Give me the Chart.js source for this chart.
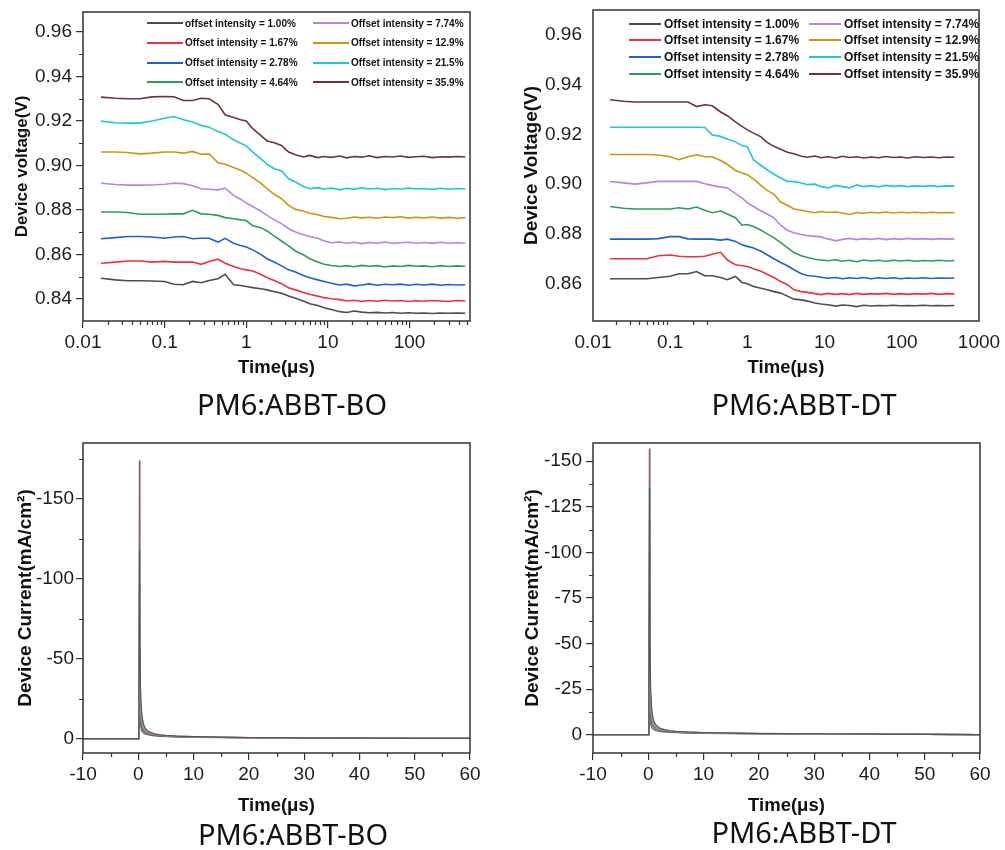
<!DOCTYPE html>
<html>
<head>
<meta charset="utf-8">
<script src="https://cdn.jsdelivr.net/npm/chart.js@4.4.1/dist/chart.umd.min.js"></script>
<style>
  body { margin: 0; background: #fff; width: 1005px; height: 850px; position: relative; overflow: hidden; font-family: "Liberation Sans", Arial, sans-serif; }
  canvas { position: absolute; }
  .cap { position: absolute; width: 300px; height: 40px; line-height: 40px; text-align: center; font-family: "Noto Sans", sans-serif; font-size: 29px; color: #111; }
  .lg { position: absolute; display: flex; align-items: center; height: 14px; font-weight: bold; white-space: nowrap; color: #111; }
  .lg i { display: inline-block; height: 2px; }
</style>
</head>
<body>
<canvas id="c1" width="490" height="390" style="left:0;top:0"></canvas>
<canvas id="c2" width="505" height="390" style="left:500px;top:0"></canvas>
<canvas id="c3" width="490" height="400" style="left:0;top:420px"></canvas>
<canvas id="c4" width="505" height="400" style="left:500px;top:420px"></canvas>
<div class="cap" style="left:142px;top:384px">PM6:ABBT-BO</div>
<div class="cap" style="left:654px;top:384px">PM6:ABBT-DT</div>
<div class="cap" style="left:143px;top:814px">PM6:ABBT-BO</div>
<div class="cap" style="left:654px;top:812px">PM6:ABBT-DT</div>
<script>
// 瞬态光电压 (上) / 瞬态光电流 (下)

const timeTop = [0.0166, 0.025, 0.035, 0.05, 0.07, 0.1, 0.13, 0.17, 0.22, 0.28, 0.35, 0.45, 0.55, 0.7, 0.85,
  1.0, 1.2, 1.5, 1.8, 2.2, 2.7, 3.3, 4, 5, 6, 7.5, 9, 11, 14, 17, 21, 26, 32, 40, 50, 62, 78, 97, 120, 150,
  190, 240, 300, 380, 480];

// PM6:ABBT-BO voltage (V)
const voltBO_100 = [0.8492, 0.8485, 0.8481, 0.8481, 0.8480, 0.8478, 0.8465, 0.8463, 0.8478, 0.8472, 0.8482, 0.8490, 0.8510, 0.8463, 0.8460,
  0.8455, 0.8450, 0.8445, 0.8440, 0.8432, 0.8425, 0.8412, 0.8402, 0.8390, 0.8378, 0.8370, 0.8360, 0.8352, 0.8342, 0.8338,
  0.8345, 0.8340, 0.8337, 0.8339, 0.8336, 0.8338, 0.8335, 0.8337, 0.8335, 0.8336, 0.8334, 0.8336, 0.8335, 0.8336, 0.8335];
const voltBO_167 = [0.8560, 0.8565, 0.8570, 0.8570, 0.8565, 0.8568, 0.8565, 0.8565, 0.8565, 0.8555, 0.8568, 0.8578, 0.8560, 0.8545, 0.8535,
  0.8530, 0.8525, 0.8510, 0.8495, 0.8482, 0.8468, 0.8450, 0.8440, 0.8428, 0.8420, 0.8412, 0.8405, 0.8400, 0.8396, 0.8390,
  0.8393, 0.8388, 0.8392, 0.8389, 0.8393, 0.8390, 0.8392, 0.8388, 0.8391, 0.8389, 0.8392, 0.8390, 0.8388, 0.8392, 0.8390];
const voltBO_278 = [0.8670, 0.8675, 0.8680, 0.8680, 0.8678, 0.8672, 0.8678, 0.8680, 0.8670, 0.8672, 0.8672, 0.8655, 0.8672, 0.8650, 0.8640,
  0.8633, 0.8620, 0.8600, 0.8580, 0.8565, 0.8548, 0.8530, 0.8520, 0.8505, 0.8495, 0.8485, 0.8478, 0.8470, 0.8462, 0.8466,
  0.8458, 0.8462, 0.8467, 0.8461, 0.8465, 0.8463, 0.8466, 0.8461, 0.8465, 0.8462, 0.8466, 0.8461, 0.8464, 0.8462, 0.8463];
const voltBO_464 = [0.8790, 0.8790, 0.8788, 0.8780, 0.8780, 0.8780, 0.8782, 0.8782, 0.8798, 0.8782, 0.8780, 0.8775, 0.8765, 0.8760, 0.8755,
  0.8752, 0.8728, 0.8720, 0.8705, 0.8682, 0.8660, 0.8638, 0.8615, 0.8598, 0.8580, 0.8565, 0.8555, 0.8550, 0.8545, 0.8549,
  0.8544, 0.8550, 0.8546, 0.8549, 0.8543, 0.8548, 0.8545, 0.8550, 0.8546, 0.8548, 0.8544, 0.8549, 0.8545, 0.8548, 0.8546];
const voltBO_774 = [0.8920, 0.8914, 0.8911, 0.8911, 0.8912, 0.8915, 0.8920, 0.8918, 0.8908, 0.8895, 0.8893, 0.8890, 0.8898, 0.8865, 0.8848,
  0.8830, 0.8815, 0.8795, 0.8775, 0.8755, 0.8738, 0.8715, 0.8700, 0.8688, 0.8680, 0.8672, 0.8660, 0.8652, 0.8655, 0.8650,
  0.8654, 0.8648, 0.8653, 0.8650, 0.8655, 0.8649, 0.8652, 0.8654, 0.8650, 0.8653, 0.8649, 0.8654, 0.8650, 0.8652, 0.8650];
const voltBO_129 = [0.9060, 0.9060, 0.9058, 0.9052, 0.9055, 0.9060, 0.9060, 0.9055, 0.9063, 0.9050, 0.9052, 0.9012, 0.9005, 0.8990, 0.8978,
  0.8965, 0.8945, 0.8920, 0.8895, 0.8870, 0.8850, 0.8820, 0.8802, 0.8795, 0.8785, 0.8778, 0.8770, 0.8766, 0.8760, 0.8762,
  0.8768, 0.8764, 0.8767, 0.8762, 0.8768, 0.8765, 0.8769, 0.8763, 0.8767, 0.8764, 0.8768, 0.8763, 0.8766, 0.8762, 0.8765];
const voltBO_215 = [0.9199, 0.9192, 0.9190, 0.9190, 0.9200, 0.9212, 0.9220, 0.9205, 0.9195, 0.9180, 0.9172, 0.9152, 0.9140, 0.9115, 0.9100,
  0.9088, 0.9060, 0.9030, 0.9005, 0.8985, 0.8975, 0.8940, 0.8925, 0.8905, 0.8895, 0.8900, 0.8893, 0.8898, 0.8890, 0.8897,
  0.8892, 0.8899, 0.8894, 0.8897, 0.8891, 0.8896, 0.8893, 0.8898, 0.8894, 0.8896, 0.8892, 0.8897, 0.8893, 0.8896, 0.8894];
const voltBO_359 = [0.9307, 0.9302, 0.9300, 0.9300, 0.9308, 0.9310, 0.9309, 0.9292, 0.9292, 0.9302, 0.9300, 0.9275, 0.9228, 0.9215, 0.9205,
  0.9200, 0.9165, 0.9135, 0.9110, 0.9102, 0.9090, 0.9060, 0.9048, 0.9038, 0.9045, 0.9035, 0.9040, 0.9036, 0.9042, 0.9034,
  0.9040, 0.9037, 0.9043, 0.9035, 0.9040, 0.9038, 0.9042, 0.9036, 0.9039, 0.9041, 0.9035, 0.9039, 0.9037, 0.9040, 0.9038];

// PM6:ABBT-DT voltage (V)
const voltDT_100 = [0.8620, 0.8620, 0.8620, 0.8620, 0.8625, 0.8630, 0.8640, 0.8640, 0.8649, 0.8632, 0.8632, 0.8625, 0.8616, 0.8629, 0.8605,
  0.8600, 0.8589, 0.8582, 0.8576, 0.8568, 0.8562, 0.8550, 0.8538, 0.8535, 0.8530, 0.8522, 0.8518, 0.8515, 0.8510, 0.8514,
  0.8512, 0.8508, 0.8513, 0.8510, 0.8512, 0.8511, 0.8513, 0.8511, 0.8512, 0.8511, 0.8513, 0.8511, 0.8512, 0.8511, 0.8512];
const voltDT_167 = [0.8700, 0.8700, 0.8700, 0.8700, 0.8712, 0.8715, 0.8710, 0.8708, 0.8708, 0.8710, 0.8718, 0.8726, 0.8695, 0.8676, 0.8672,
  0.8669, 0.8660, 0.8650, 0.8638, 0.8625, 0.8609, 0.8596, 0.8576, 0.8568, 0.8565, 0.8560, 0.8556, 0.8561, 0.8557, 0.8560,
  0.8556, 0.8561, 0.8557, 0.8560, 0.8558, 0.8561, 0.8557, 0.8560, 0.8557, 0.8560, 0.8558, 0.8561, 0.8557, 0.8560, 0.8559];
const voltDT_278 = [0.8779, 0.8779, 0.8779, 0.8779, 0.8781, 0.8789, 0.8789, 0.8780, 0.8779, 0.8779, 0.8779, 0.8775, 0.8779, 0.8770, 0.8756,
  0.8750, 0.8743, 0.8730, 0.8716, 0.8700, 0.8685, 0.8672, 0.8656, 0.8640, 0.8633, 0.8630, 0.8626, 0.8622, 0.8625, 0.8620,
  0.8624, 0.8621, 0.8625, 0.8620, 0.8624, 0.8621, 0.8624, 0.8620, 0.8623, 0.8621, 0.8624, 0.8621, 0.8623, 0.8622, 0.8623];
const voltDT_464 = [0.8910, 0.8903, 0.8900, 0.8900, 0.8900, 0.8900, 0.8905, 0.8900, 0.8908, 0.8895, 0.8885, 0.8892, 0.8880, 0.8865, 0.8835,
  0.8838, 0.8830, 0.8815, 0.8800, 0.8785, 0.8765, 0.8745, 0.8725, 0.8712, 0.8705, 0.8698, 0.8695, 0.8692, 0.8696, 0.8690,
  0.8694, 0.8688, 0.8695, 0.8691, 0.8694, 0.8690, 0.8694, 0.8691, 0.8694, 0.8690, 0.8693, 0.8691, 0.8694, 0.8691, 0.8693];
const voltDT_774 = [0.9011, 0.9005, 0.9000, 0.9005, 0.9011, 0.9011, 0.9011, 0.9011, 0.9011, 0.9002, 0.8995, 0.8988, 0.8985, 0.8962, 0.8945,
  0.8925, 0.8910, 0.8892, 0.8880, 0.8865, 0.8835, 0.8815, 0.8805, 0.8798, 0.8793, 0.8790, 0.8788, 0.8780, 0.8772, 0.8778,
  0.8782, 0.8777, 0.8781, 0.8778, 0.8782, 0.8777, 0.8781, 0.8778, 0.8782, 0.8779, 0.8781, 0.8778, 0.8781, 0.8779, 0.8780];
const voltDT_129 = [0.9119, 0.9119, 0.9119, 0.9119, 0.9117, 0.9110, 0.9098, 0.9110, 0.9118, 0.9110, 0.9110, 0.9095, 0.9080, 0.9055, 0.9045,
  0.9038, 0.9020, 0.8995, 0.8975, 0.8960, 0.8928, 0.8915, 0.8900, 0.8895, 0.8890, 0.8885, 0.8890, 0.8886, 0.8888, 0.8884,
  0.8878, 0.8886, 0.8883, 0.8887, 0.8884, 0.8888, 0.8884, 0.8887, 0.8885, 0.8887, 0.8884, 0.8887, 0.8885, 0.8886, 0.8885];
const voltDT_215 = [0.9229, 0.9229, 0.9229, 0.9229, 0.9229, 0.9229, 0.9229, 0.9229, 0.9229, 0.9228, 0.9198, 0.9192, 0.9182, 0.9170, 0.9155,
  0.9150, 0.9098, 0.9075, 0.9058, 0.9040, 0.9025, 0.9011, 0.9010, 0.9005, 0.8998, 0.9000, 0.8990, 0.8985, 0.8995, 0.8990,
  0.8985, 0.8997, 0.8990, 0.8994, 0.8989, 0.8995, 0.8991, 0.8994, 0.8990, 0.8993, 0.8991, 0.8994, 0.8990, 0.8993, 0.8992];
const voltDT_359 = [0.9339, 0.9333, 0.9330, 0.9330, 0.9330, 0.9330, 0.9330, 0.9330, 0.9312, 0.9319, 0.9315, 0.9290, 0.9275, 0.9250, 0.9232,
  0.9218, 0.9205, 0.9190, 0.9168, 0.9152, 0.9140, 0.9128, 0.9122, 0.9112, 0.9108, 0.9113, 0.9106, 0.9110, 0.9105, 0.9112,
  0.9107, 0.9110, 0.9105, 0.9109, 0.9106, 0.9111, 0.9107, 0.9109, 0.9105, 0.9110, 0.9107, 0.9109, 0.9106, 0.9109, 0.9108];

// transient photocurrent (mA/cm2)
const timeCur = [-10, -5, 0, 0.1, 0.2, 0.3, 0.4, 0.6, 0.8, 1, 1.3, 1.7, 2.2, 3, 4, 5, 7, 10, 15, 20, 30, 40, 50, 60];

const curBO_100 = [0, 0, 0, -0.2, -22, -12, -8, -5, -4, -3.3, -2.8, -2.4, -2.0, -1.7, -1.4, -1.2, -1.0, -0.8, -0.6, -0.5, -0.35, -0.25, -0.15, -0.1];
const curBO_167 = [0, 0, 0, -0.2, -34, -16, -10, -6.5, -5, -4, -3.3, -2.8, -2.3, -1.9, -1.6, -1.4, -1.1, -0.9, -0.7, -0.5, -0.35, -0.25, -0.15, -0.1];
const curBO_278 = [0, 0, 0, -0.3, -45, -20, -13, -8, -6, -4.8, -3.8, -3.1, -2.6, -2.1, -1.7, -1.5, -1.2, -1.0, -0.7, -0.55, -0.4, -0.3, -0.2, -0.1];
const curBO_464 = [0, 0, 0, -0.3, -57, -26, -16, -10, -7.2, -5.6, -4.4, -3.5, -2.9, -2.3, -1.9, -1.6, -1.3, -1.0, -0.8, -0.6, -0.4, -0.3, -0.2, -0.1];
const curBO_774 = [0, 0, 0, -0.4, -76, -32, -19, -11.5, -8.2, -6.3, -4.9, -3.9, -3.1, -2.5, -2.0, -1.7, -1.4, -1.1, -0.8, -0.6, -0.45, -0.3, -0.2, -0.1];
const curBO_129 = [0, 0, 0, -0.4, -96, -38, -22, -13, -9.2, -7, -5.4, -4.2, -3.4, -2.7, -2.2, -1.8, -1.5, -1.2, -0.9, -0.7, -0.45, -0.3, -0.2, -0.1];
const curBO_215 = [0, 0, 0, -0.5, -118, -46, -26, -15, -10.5, -7.8, -6, -4.6, -3.7, -2.9, -2.3, -1.9, -1.5, -1.2, -0.9, -0.7, -0.5, -0.35, -0.2, -0.1];
const curBO_359 = [0, 0, 0, -0.5, -174, -60, -32, -17, -11.5, -8.5, -6.4, -4.9, -3.9, -3.0, -2.4, -2.0, -1.6, -1.3, -0.9, -0.7, -0.5, -0.35, -0.2, -0.1];

const curDT_100 = [0, 0, 0, -0.2, -18, -9, -6, -4, -3.2, -2.7, -2.3, -2, -1.7, -1.5, -1.3, -1.1, -0.9, -0.8, -0.6, -0.5, -0.4, -0.3, -0.2, -0.1];
const curDT_167 = [0, 0, 0, -0.2, -33, -14, -9, -5.8, -4.5, -3.6, -3, -2.5, -2.1, -1.8, -1.5, -1.3, -1.1, -0.9, -0.7, -0.55, -0.4, -0.3, -0.2, -0.1];
const curDT_278 = [0, 0, 0, -0.3, -50, -19, -12, -7.5, -5.6, -4.4, -3.6, -2.9, -2.4, -2, -1.7, -1.5, -1.2, -1, -0.75, -0.6, -0.45, -0.3, -0.2, -0.1];
const curDT_464 = [0, 0, 0, -0.3, -75, -26, -15, -9, -6.6, -5.1, -4.1, -3.3, -2.7, -2.2, -1.8, -1.6, -1.3, -1.05, -0.8, -0.6, -0.45, -0.3, -0.2, -0.1];
const curDT_774 = [0, 0, 0, -0.4, -100, -32, -18, -10.5, -7.5, -5.8, -4.5, -3.6, -2.9, -2.4, -1.9, -1.7, -1.4, -1.1, -0.85, -0.65, -0.5, -0.35, -0.2, -0.1];
const curDT_129 = [0, 0, 0, -0.4, -118, -38, -21, -12, -8.4, -6.4, -5, -3.9, -3.1, -2.5, -2, -1.8, -1.45, -1.15, -0.9, -0.7, -0.5, -0.35, -0.2, -0.1];
const curDT_215 = [0, 0, 0, -0.5, -135, -44, -24, -13.5, -9.3, -7, -5.4, -4.2, -3.3, -2.6, -2.1, -1.85, -1.5, -1.2, -0.9, -0.7, -0.5, -0.35, -0.2, -0.1];
const curDT_359 = [0, 0, 0, -0.5, -157, -52, -28, -15, -10.2, -7.6, -5.8, -4.5, -3.5, -2.8, -2.2, -1.9, -1.55, -1.25, -0.95, -0.75, -0.55, -0.35, -0.2, -0.1];

const legendBO = ["offset intensity = 1.00%", "Offset intensity = 1.67%", "Offset intensity = 2.78%", "Offset intensity = 4.64%",
  "Offset intensity = 7.74%", "Offset intensity = 12.9%", "Offset intensity = 21.5%", "Offset intensity = 35.9%"];
const legendDT = ["Offset intensity = 1.00%", "Offset intensity = 1.67%", "Offset intensity = 2.78%", "Offset intensity = 4.64%",
  "Offset intensity = 7.74%", "Offset intensity = 12.9%", "Offset intensity = 21.5%", "Offset intensity = 35.9%"];
const seriesColors = ["#4d4d4d", "#e8343c", "#1f5fcf", "#2a9d5c", "#b584e0", "#c99513", "#22c7cb", "#6e3434"];

const xTicksBO = [0.01, 0.1, 1, 10, 100];
const xTicksDT = [0.01, 0.1, 1, 10, 100, 1000];
const minorXBO = [0.02, 0.03, 0.04, 0.05, 0.06, 0.07, 0.08, 0.09, 0.2, 0.3, 0.4, 0.5, 0.6, 0.7, 0.8, 0.9,
  2, 3, 4, 5, 6, 7, 8, 9, 20, 30, 40, 50, 60, 70, 80, 90, 200, 300, 400, 500];
const minorXDT = [0.02, 0.03, 0.04, 0.05, 0.06, 0.07, 0.08, 0.09, 0.2, 0.3];
const yTicksBO = [0.84, 0.86, 0.88, 0.90, 0.92, 0.94, 0.96];
const minorYBO = [0.85, 0.87, 0.89, 0.91, 0.93, 0.95];
const yTicksDT = [0.86, 0.88, 0.90, 0.92, 0.94, 0.96];
const xTicksCur = [-10, 0, 10, 20, 30, 40, 50, 60];
const minorXCur = [-5, 5, 15, 25, 35, 45, 55];
const yTicksCurBO = [-150, -100, -50, 0];
const minorYCurBO = [-175, -125, -75, -25];
const yTicksCurDT = [-150, -125, -100, -75, -50, -25, 0];
const minorYCurDT = [-137.5, -112.5, -87.5, -62.5, -37.5, -12.5];

Chart.defaults.font.family = '"Liberation Sans", Arial, sans-serif';
Chart.defaults.color = "#1c1c1c";

// 边框 + 次刻度
const axisDeco = {
  id: "axisDeco",
  afterDraw(chart, args, opts) {
    const { ctx, chartArea: a, scales } = chart;
    ctx.save();
    ctx.strokeStyle = "#333";
    ctx.lineWidth = 1.5;
    ctx.strokeRect(a.left, a.top, a.right - a.left, a.bottom - a.top);
    ctx.lineWidth = 1.2;
    ctx.beginPath();
    (opts.minorX || []).forEach((v) => {
      const px = Math.round(scales.x.getPixelForValue(v)) + 0.5;
      ctx.moveTo(px, a.bottom);
      ctx.lineTo(px, a.bottom + 4);
    });
    (opts.minorY || []).forEach((v) => {
      const py = Math.round(scales.y.getPixelForValue(v)) + 0.5;
      ctx.moveTo(a.left - 4, py);
      ctx.lineTo(a.left, py);
    });
    ctx.stroke();
    ctx.restore();
  },
};

// 固定坐标轴尺寸，不让标签溢出去挤压绘图区
function fixX(h) {
  return (s) => { s.height = h; s.paddingLeft = 0; s.paddingRight = 0; };
}
function fixY(w) {
  return (s) => { s.width = w; s.paddingTop = 0; s.paddingBottom = 0; };
}

function makeChart(id, o) {
  return new Chart(document.getElementById(id), {
    type: "line",
    data: {
      datasets: o.series.map((ys, i) => ({
        label: o.labels[i],
        data: o.xs.map((x, k) => ({ x, y: ys[k] })),
        borderColor: seriesColors[i] + o.alpha,
        backgroundColor: seriesColors[i],
        borderWidth: o.lineWidth,
        pointRadius: 0,
        tension: 0,
        order: 7 - i,
      })),
    },
    options: {
      responsive: false,
      animation: false,
      devicePixelRatio: 1,
      layout: { padding: o.pad },
      plugins: {
        legend: { display: false },
        tooltip: { enabled: false },
        axisDeco: { minorX: o.minorX, minorY: o.minorY },
      },
      scales: {
        x: {
          type: o.xType,
          min: o.xMin,
          max: o.xMax,
          afterBuildTicks: (s) => { s.ticks = o.xTicks.map((v) => ({ value: v })); },
          afterFit: fixX(o.xHeight),
          border: { display: false },
          grid: { drawOnChartArea: false, drawTicks: o.majorTicks, tickLength: 7, color: "#333", lineWidth: 1.2 },
          ticks: { autoSkip: false, maxRotation: 0, padding: o.xLabelPad, font: { size: 19 }, callback: (v) => String(v) },
          title: { display: true, text: "Time(μs)", color: "#111", font: { size: 18.5, weight: "bold" }, padding: { top: 0, bottom: o.xTitlePad } },
        },
        y: {
          min: o.yMin,
          max: o.yMax,
          reverse: o.reverse,
          afterBuildTicks: (s) => { s.ticks = o.yTicks.map((v) => ({ value: v })); },
          afterFit: fixY(o.yWidth),
          border: { display: false },
          grid: { drawOnChartArea: false, drawTicks: o.majorTicks, tickLength: 7, color: "#333", lineWidth: 1.2 },
          ticks: { autoSkip: false, padding: o.yLabelPad, font: { size: 19 }, callback: o.yFmt },
          title: { display: true, text: o.yTitle, color: "#111", font: { size: o.yTitleSize, weight: "bold" }, padding: { top: o.yTitlePad, bottom: 0 } },
        },
      },
    },
    plugins: [axisDeco],
  });
}

function buildLegend(chart, spec) {
  chart.data.datasets.forEach((ds, i) => {
    const el = document.createElement("div");
    el.className = "lg";
    el.style.left = spec.colX[i < 4 ? 0 : 1] + "px";
    el.style.top = spec.rowY[i % 4] - 7 + "px";
    el.style.fontSize = spec.font + "px";
    const sw = document.createElement("i");
    sw.style.width = spec.swatch + "px";
    sw.style.background = ds.backgroundColor;
    sw.style.marginRight = spec.gap + "px";
    el.appendChild(sw);
    el.appendChild(document.createTextNode(ds.label));
    document.body.appendChild(el);
  });
}

const fmt2 = (v) => v.toFixed(2);
const fmt0 = (v) => String(v);

const chartBO = makeChart("c1", {
  xs: timeTop,
  series: [voltBO_100, voltBO_167, voltBO_278, voltBO_464, voltBO_774, voltBO_129, voltBO_215, voltBO_359],
  labels: legendBO, alpha: "", lineWidth: 1.6,
  pad: { top: 12, right: 20, left: 0, bottom: 0 },
  xType: "logarithmic", xMin: 0.01, xMax: 550, xTicks: xTicksBO, xHeight: 69, xLabelPad: 3, xTitlePad: 11,
  yMin: 0.83, yMax: 0.969, yTicks: yTicksBO, yWidth: 83, yLabelPad: 4, yFmt: fmt2, reverse: false,
  yTitle: "Device voltage(V)", yTitleSize: 17, yTitlePad: 12,
  majorTicks: true, minorX: minorXBO, minorY: minorYBO,
});

const chartDT = makeChart("c2", {
  xs: timeTop,
  series: [voltDT_100, voltDT_167, voltDT_278, voltDT_464, voltDT_774, voltDT_129, voltDT_215, voltDT_359],
  labels: legendDT, alpha: "", lineWidth: 1.6,
  pad: { top: 10, right: 26, left: 0, bottom: 0 },
  xType: "logarithmic", xMin: 0.01, xMax: 1000, xTicks: xTicksDT, xHeight: 69, xLabelPad: 10, xTitlePad: 11,
  yMin: 0.845, yMax: 0.970, yTicks: yTicksDT, yWidth: 93, yLabelPad: 11, yFmt: fmt2, reverse: false,
  yTitle: "Device Voltage(V)", yTitleSize: 19, yTitlePad: 20,
  majorTicks: false, minorX: minorXDT, minorY: [],
});

makeChart("c3", {
  xs: timeCur,
  series: [curBO_100, curBO_167, curBO_278, curBO_464, curBO_774, curBO_129, curBO_215, curBO_359],
  labels: legendBO, alpha: "cc", lineWidth: 1.2,
  pad: { top: 23, right: 20, left: 0, bottom: 0 },
  xType: "linear", xMin: -10, xMax: 60, xTicks: xTicksCur, xHeight: 67, xLabelPad: 3, xTitlePad: 3,
  yMin: -185, yMax: 9, yTicks: yTicksCurBO, yWidth: 83, yLabelPad: 2, yFmt: fmt0, reverse: true,
  yTitle: "Device Current(mA/cm²)", yTitleSize: 19, yTitlePad: 14,
  majorTicks: true, minorX: minorXCur, minorY: minorYCurBO,
});

makeChart("c4", {
  xs: timeCur,
  series: [curDT_100, curDT_167, curDT_278, curDT_464, curDT_774, curDT_129, curDT_215, curDT_359],
  labels: legendDT, alpha: "cc", lineWidth: 1.2,
  pad: { top: 23, right: 25, left: 0, bottom: 0 },
  xType: "linear", xMin: -10, xMax: 60, xTicks: xTicksCur, xHeight: 67, xLabelPad: 3, xTitlePad: 3,
  yMin: -160, yMax: 10, yTicks: yTicksCurDT, yWidth: 93, yLabelPad: 4, yFmt: fmt0, reverse: true,
  yTitle: "Device Current(mA/cm²)", yTitleSize: 19, yTitlePad: 21,
  majorTicks: true, minorX: minorXCur, minorY: minorYCurDT,
});

buildLegend(chartBO, { colX: [147, 313], rowY: [23, 42.7, 62.7, 82.3], swatch: 36, gap: 2, font: 10 });
buildLegend(chartDT, { colX: [629, 809], rowY: [23.5, 40.3, 57, 73.7], swatch: 32, gap: 3, font: 12 });
</script>
</body>
</html>
